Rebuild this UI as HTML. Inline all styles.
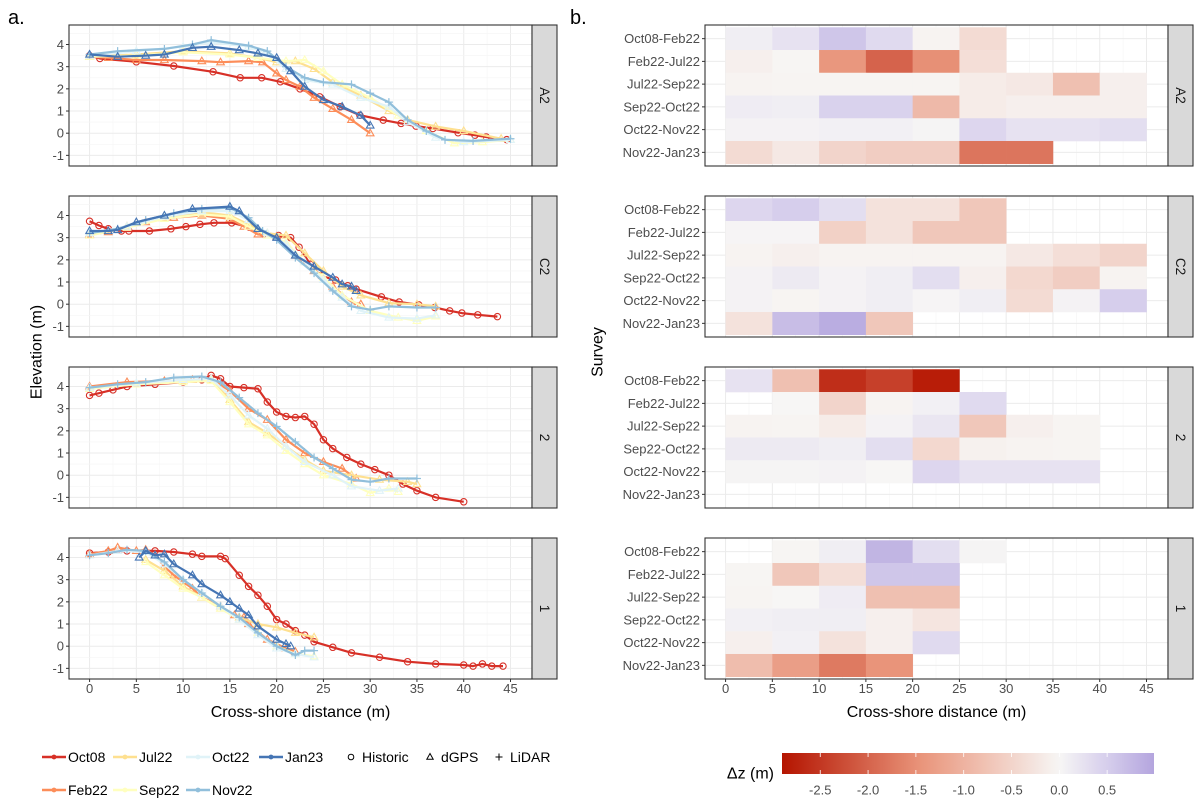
<!DOCTYPE html>
<html><head><meta charset="utf-8"><style>
html,body{margin:0;padding:0;background:#fff;}
svg{display:block;font-family:"Liberation Sans",sans-serif;}
</style></head><body>
<svg id="chart" width="1200" height="811" viewBox="0 0 1200 811" xmlns="http://www.w3.org/2000/svg"></svg>
<script>
// ---------- DATA ----------
const profiles = ["A2","C2","2","1"];
const surveys = ["Oct08","Feb22","Jul22","Sep22","Oct22","Nov22","Jan23"];
const surveyColors = ["#d73027","#fc8d59","#fee090","#ffffbf","#e0f3f8","#91bfdb","#4575b4"];
const surveyShapes = ["circle","triangle","triangle","triangle","triangle","plus","triangle"];
const xTicks = [0,5,10,15,20,25,30,35,40,45];
const zTicks = [-1,0,1,2,3,4];
const transitions = ["Oct08-Feb22","Feb22-Jul22","Jul22-Sep22","Sep22-Oct22","Oct22-Nov22","Nov22-Jan23"];
const binStarts = [0,5,10,15,20,25,30,35,40];
const cbTicks = [-2.5,-2.0,-1.5,-1.0,-0.5,0.0,0.5];

// elevation profiles [distance m, elevation m]
const profA2_Oct08 = [[0,3.5],[1.1,3.37],[5,3.22],[9,3.03],[13.2,2.77],[16.1,2.5],[18.4,2.5],[20.4,2.32],[22.5,2.0],[24.6,1.64],[26.8,1.19],[28.9,0.81],[31.4,0.59],[33.3,0.44],[34.9,0.32],[36.7,0.21],[39.4,0.02],[41.2,-0.09],[42.4,-0.17],[44.6,-0.29]];
const profA2_Feb22 = [[0,3.45],[2,3.4],[5,3.3],[8,3.3],[12,3.25],[14,3.2],[17,3.25],[18.5,3.2],[20,2.7],[21,2.4],[22.5,2.1],[24,1.6],[26,1.1],[28,0.6],[30,0.0]];
const profA2_Jul22 = [[0,3.45],[5,3.55],[10,3.7],[15,3.6],[18,3.4],[20,3.2],[22,3.25],[24,2.9],[26,2.3],[29,1.7],[32,1.0],[34,0.6],[37,0.3],[40,0.1],[44,-0.25]];
const profA2_Sep22 = [[0,3.45],[5,3.5],[10,3.65],[15,3.55],[18,3.4],[21,3.25],[23,3.3],[25,2.8],[27,2.2],[30,1.6],[33,0.8],[36,0.1],[39,-0.45],[42,-0.4],[45,-0.3]];
const profA2_Oct22 = [[0,3.5],[5,3.7],[10,3.9],[13,4.1],[17,3.9],[19,3.6],[21,2.9],[23,2.4],[26,2.2],[29,1.6],[32,1.2],[34,0.5],[37,-0.2],[40,-0.4],[45,-0.3]];
const profA2_Nov22 = [[0,3.55],[3,3.7],[8,3.8],[11,4.0],[13,4.2],[17,3.95],[19,3.7],[21,3.0],[23,2.5],[25,2.3],[28,2.2],[30,1.8],[32,1.4],[34,0.6],[36,0.1],[38,-0.3],[41,-0.35],[45,-0.25]];
const profA2_Jan23 = [[0,3.55],[3,3.45],[6,3.5],[8,3.55],[11,3.85],[13,3.9],[16,3.75],[18,3.6],[20,3.4],[21.5,2.8],[23,2.1],[25,1.5],[27,1.2],[29,0.8],[30,0.35]];

const profC2_Oct08 = [[0,3.74],[1,3.55],[2,3.4],[3.4,3.3],[4.2,3.3],[6.4,3.3],[8.7,3.4],[10.3,3.5],[11.8,3.6],[13.3,3.67],[15.2,3.67],[17.1,3.47],[18.6,3.17],[20.2,3.1],[21.5,3.0],[22.4,2.57],[23.6,1.8],[24.7,1.28],[26.3,1.09],[27.6,0.83],[28.5,0.68],[31.2,0.33],[33.1,0.1],[35.2,-0.03],[36.9,-0.15],[38.5,-0.3],[39.8,-0.4],[41.5,-0.48],[43.6,-0.56]];
const profC2_Feb22 = [[0,3.15],[2,3.25],[4,3.5],[6,3.7],[9,3.9],[12,4.0],[15,3.85],[16.5,3.5],[18,3.15],[20,3.05],[22,2.2],[24,1.5],[26,0.8],[28,0.1],[29,0.0]];
const profC2_Jul22 = [[0,3.1],[4,3.5],[8,3.9],[12,4.15],[15,4.0],[17,3.6],[19,3.2],[21,3.1],[23,2.3],[25,1.5],[27,0.8],[29,0.4],[32,0.05],[35,0.0],[37,-0.1]];
const profC2_Sep22 = [[0,3.1],[4,3.45],[8,3.85],[12,4.05],[15,3.95],[17,3.5],[19,3.1],[21,2.8],[23,1.9],[25,1.2],[27,0.4],[30,-0.3],[33,-0.6],[35,-0.75],[37,-0.55]];
const profC2_Oct22 = [[0,3.2],[4,3.5],[8,3.95],[12,4.2],[15,4.2],[17,3.8],[19,3.2],[21,2.7],[23,1.9],[25,1.1],[27,0.3],[29,-0.3],[32,-0.6],[35,-0.65],[37,-0.5]];
const profC2_Nov22 = [[0,3.2],[3,3.4],[6,3.8],[9,4.1],[12,4.3],[15,4.35],[17,3.9],[18.5,3.3],[20,2.9],[22,2.1],[24,1.4],[26,0.6],[28,-0.1],[30,-0.25],[32,-0.1],[35,-0.15],[37,-0.15]];
const profC2_Jan23 = [[0,3.3],[2,3.3],[3,3.35],[5,3.7],[8,4.0],[11,4.3],[15,4.4],[16,4.2],[18,3.4],[20,3.0],[22,2.2],[24,1.7],[26,1.2],[27,0.9],[28,0.8],[28.5,0.6]];

const prof2_Oct08 = [[0,3.6],[1,3.7],[2.5,3.85],[4,4.0],[7,4.1],[10,4.2],[12,4.3],[13,4.5],[14,4.35],[15,4.0],[16.5,3.95],[18,3.9],[19,3.3],[20,2.85],[21,2.65],[22,2.6],[23,2.65],[24,2.3],[25,1.6],[26,1.2],[27.5,0.8],[29,0.5],[30.5,0.25],[32,0.0],[33.5,-0.4],[35,-0.7],[37,-1.0],[40,-1.2]];
const prof2_Feb22 = [[0,4.0],[4,4.2],[8,4.25],[11,4.3],[13,4.35],[15,3.8],[17,3.0],[19,2.5],[21,1.6],[23,1.0],[25,0.6],[27,0.3],[28.5,-0.15]];
const prof2_Jul22 = [[0,3.9],[5,4.1],[10,4.25],[13,4.3],[15,3.4],[17,2.4],[19,1.9],[21,1.3],[23,0.7],[25,0.2],[28,0.0],[31,-0.2],[34,-0.3],[35,-0.4]];
const prof2_Sep22 = [[0,3.9],[5,4.1],[10,4.2],[13,4.25],[15,3.3],[17,2.3],[19,1.8],[21,1.1],[23,0.5],[25,0.0],[28,-0.4],[30,-0.8],[32,-0.6],[33,-0.75]];
const prof2_Oct22 = [[0,3.95],[5,4.15],[10,4.3],[13,4.35],[15,3.6],[17,2.7],[19,2.1],[21,1.3],[23,0.6],[26,0.0],[28,-0.5],[31,-0.7],[33,-0.6]];
const prof2_Nov22 = [[0,3.95],[3,4.1],[6,4.2],[9,4.4],[12,4.45],[14,4.2],[16,3.5],[18,2.8],[20,2.2],[22,1.5],[24,0.8],[26,0.3],[28,-0.2],[30,-0.3],[32,-0.15],[35,-0.15]];
const prof2_Jan23 = [];

const prof1_Oct08 = [[0,4.2],[2,4.25],[4,4.3],[7,4.3],[9,4.25],[11,4.15],[12,4.05],[14,4.05],[14.5,3.95],[16,3.2],[17,2.7],[18,2.3],[19,1.8],[20,1.2],[21,1.0],[22,0.7],[23,0.5],[24,0.2],[26,-0.05],[28,-0.3],[31,-0.5],[34,-0.7],[37,-0.8],[40,-0.85],[41,-0.9],[42,-0.8],[43,-0.9],[44.2,-0.9]];
const prof1_Feb22 = [[0,4.15],[2,4.3],[3,4.45],[5,4.3],[6,4.35],[7,4.1],[8,3.6],[9,3.2],[10,2.9],[11,2.6],[12,2.2],[14,1.8],[15.5,1.4],[16.5,1.3],[17,1.0],[19,0.3],[21,-0.1],[22,-0.25]];
const prof1_Jul22 = [[6,3.9],[8,3.4],[10,2.7],[12,2.2],[14,1.7],[16,1.3],[18,1.0],[20,0.85],[22,0.6],[24,0.4]];
const prof1_Sep22 = [[6,3.8],[8,3.2],[10,2.6],[12,2.2],[14,1.7],[16,1.2],[18,0.6],[20,0.0],[22,-0.35],[24,-0.45]];
const prof1_Oct22 = [[0,4.1],[3,4.3],[6,4.25],[8,3.7],[10,3.0],[12,2.4],[14,1.8],[16,1.2],[18,0.5],[20,-0.1],[22,-0.35],[24,-0.5]];
const prof1_Nov22 = [[0,4.1],[2,4.2],[4,4.35],[6,4.3],[8,3.8],[10,3.0],[12,2.4],[14,1.8],[16,1.3],[18,0.6],[20,0.0],[22,-0.4],[23,-0.2],[24,-0.2]];
const prof1_Jan23 = [[5.3,4.0],[6,4.3],[7,4.1],[8,4.15],[9,3.7],[11,3.2],[12,2.8],[14,2.3],[15,2.0],[16,1.7],[17,1.4],[18,0.9],[20,0.3],[21,0.1],[21.5,0.0]];

// elevation change (m) per 5 m bin; null = no data
const dzA2 = [
 [0.1,0.25,0.6,0.35,-0.05,-0.4,null,null,null],
 [-0.1,-0.02,-1.4,-2.0,-1.5,-0.35,null,null,null],
 [-0.05,-0.03,-0.03,-0.03,-0.03,-0.15,-0.2,-0.8,-0.1],
 [0.12,0.1,0.45,0.45,-0.9,-0.15,-0.1,-0.1,-0.1],
 [0.05,0.05,0.08,0.08,0.03,0.4,0.25,0.25,0.3],
 [-0.4,-0.2,-0.5,-0.6,-0.6,-1.8,-1.8,null,null]];
const dzC2 = [
 [0.4,0.5,0.3,-0.3,-0.3,-0.7,null,null,null],
 [0.02,0.02,-0.55,-0.3,-0.7,-0.7,null,null,null],
 [-0.05,-0.1,-0.05,-0.05,-0.05,-0.05,-0.2,-0.35,-0.5],
 [0.05,0.15,0.05,0.1,0.3,-0.1,-0.45,-0.6,-0.05],
 [0.05,-0.03,0.05,0.1,0.02,0.1,-0.4,0.05,0.5],
 [-0.3,0.7,0.9,-0.7,null,null,null,null,null]];
const dz2 = [
 [0.25,-0.8,-2.6,-2.4,-2.8,null,null,null,null],
 [null,0.0,-0.5,-0.05,0.08,0.35,null,null,null],
 [-0.05,-0.03,-0.15,0.05,0.2,-0.7,-0.1,-0.03,null],
 [0.15,0.15,0.1,0.3,-0.45,-0.08,-0.05,-0.03,null],
 [0.03,0.03,0.05,0.0,0.4,0.25,0.25,0.25,null],
 [null,null,null,null,null,null,null,null,null]];
const dz1 = [
 [null,-0.02,0.1,0.8,0.3,0.03,null,null,null],
 [-0.02,-0.7,-0.35,0.6,0.6,null,null,null,null],
 [-0.03,0.0,0.12,-0.8,-0.8,null,null,null,null],
 [0.08,0.1,0.1,-0.1,-0.25,null,null,null,null],
 [-0.1,0.08,-0.3,-0.1,0.35,null,null,null,null],
 [-0.85,-1.3,-1.75,-1.45,null,null,null,null,null]];

const profileLines = {
 "A2":[profA2_Oct08,profA2_Feb22,profA2_Jul22,profA2_Sep22,profA2_Oct22,profA2_Nov22,profA2_Jan23],
 "C2":[profC2_Oct08,profC2_Feb22,profC2_Jul22,profC2_Sep22,profC2_Oct22,profC2_Nov22,profC2_Jan23],
 "2":[prof2_Oct08,prof2_Feb22,prof2_Jul22,prof2_Sep22,prof2_Oct22,prof2_Nov22,prof2_Jan23],
 "1":[prof1_Oct08,prof1_Feb22,prof1_Jul22,prof1_Sep22,prof1_Oct22,prof1_Nov22,prof1_Jan23]};
const profileDz = {"A2":dzA2,"C2":dzC2,"2":dz2,"1":dz1};

// ---------- LAYOUT ----------
const NS="http://www.w3.org/2000/svg";
const svg=document.getElementById('chart');
function mk(tag,attrs,parent){const e=document.createElementNS(NS,tag);for(const k in attrs)e.setAttribute(k,attrs[k]);(parent||svg).appendChild(e);return e;}
const PW=463, PH=141, TOP0=25, GAP=171;
const LX=69, RX=705;
const XMIN=-2.2, XMAX=47.3, ZMIN=-1.48, ZMAX=4.88;
function sx(left,v){return left+(v-XMIN)/(XMAX-XMIN)*PW;}
function sz(top,v){return top+(ZMAX-v)/(ZMAX-ZMIN)*PH;}
const rowH=PH/6.2;
function sRow(top,i){return top+(0.6+i)*rowH;}

function cbColor(v){
  const stops=[[-2.9,[180,20,0]],[-1.45,[233,148,122]],[0,[247,246,245]],[0.5,[214,206,236]],[0.99,[180,165,222]]];
  if(v<=stops[0][0])return 'rgb('+stops[0][1]+')';
  for(let i=1;i<stops.length;i++){if(v<=stops[i][0]){const a=stops[i-1],b=stops[i];const t=(v-a[0])/(b[0]-a[0]);
    return 'rgb('+a[1].map((c,j)=>Math.round(c+(b[1][j]-c)*t)).join(',')+')';}}
  return 'rgb('+stops[stops.length-1][1]+')';
}

function text(str,x,y,opt,parent){const t=mk('text',Object.assign({x:x,y:y},opt||{}),parent);t.textContent=str;return t;}

function marker(g,shape,x,y,color){
  let m;
  if(shape==='circle'){m=mk('circle',{cx:x,cy:y,r:3.2,fill:'none',stroke:color,'stroke-width':1.1},g);}
  else if(shape==='triangle'){m=mk('path',{d:`M${x},${y-4} L${x+3.8},${y+2.6} L${x-3.8},${y+2.6} Z`,fill:'none',stroke:color,'stroke-width':1.1},g);}
  else {m=mk('path',{d:`M${x-4},${y} H${x+4} M${x},${y-4} V${y+4}`,stroke:color,'stroke-width':1.2},g);}
  
  
}

function panelFrame(left,top,label,side,idx){
  const g=mk('g',{},svg);
  
  
  mk('rect',{x:left,y:top,width:PW,height:PH,fill:'#fff'},g);
  const grid=mk('g',{},g);
  
  
  for(let v=-2.5;v<=47.5;v+=2.5){const x=sx(left,v);if(x<left||x>left+PW)continue;
    const major=(v%5===0);
    mk('line',{x1:x,x2:x,y1:top,y2:top+PH,stroke:major?'#ebebeb':'#f5f5f5','stroke-width':major?1:0.6},grid);}
  if(side==='left'){
    for(let v=-1.5;v<=5;v+=0.5){const y=sz(top,v);if(y<top||y>top+PH)continue;const major=Number.isInteger(v);
      mk('line',{x1:left,x2:left+PW,y1:y,y2:y,stroke:major?'#ebebeb':'#f5f5f5','stroke-width':major?1:0.6},grid);}
  } else {
    for(let i=0;i<6;i++){const y=sRow(top,i);mk('line',{x1:left,x2:left+PW,y1:y,y2:y,stroke:'#ebebeb'},grid);}
  }
  return g;
}
function panelBorder(left,top,label,g){
  mk('rect',{x:left,y:top,width:PW,height:PH,fill:'none',stroke:'#333','stroke-width':1.1},g);
  const s=mk('g',{},g);
  
  
  mk('rect',{x:left+PW,y:top,width:25,height:PH,fill:'#d9d9d9',stroke:'#333','stroke-width':1.1},s);
  const cx=left+PW+12.5, cy=top+PH/2;
  text(label,cx,cy,{transform:`rotate(90 ${cx} ${cy})`,'text-anchor':'middle','dominant-baseline':'central','font-size':13.5,fill:'#1a1a1a'},s);
}

profiles.forEach((p,pi)=>{
  const top=TOP0+GAP*pi;
  const g=panelFrame(LX,top,p,'left',pi);
  const lines=profileLines[p];
  surveys.forEach((s,si)=>{
    const pts=lines[si]; if(!pts.length)return;
    const sg=mk('g',{},g);
    
    
    const d=pts.map((q,i)=>(i?'L':'M')+sx(LX,q[0]).toFixed(1)+','+sz(top,q[1]).toFixed(1)).join(' ');
    mk('path',{d:d,fill:'none',stroke:surveyColors[si],'stroke-width':2.2,'stroke-linejoin':'round'},sg);
    pts.forEach(q=>marker(sg,surveyShapes[si],sx(LX,q[0]),sz(top,q[1]),surveyColors[si]));
  });
  panelBorder(LX,top,p,g);
  zTicks.forEach(v=>{const y=sz(top,v);
    mk('line',{x1:LX-3,x2:LX,y1:y,y2:y,stroke:'#333'},g);
    const t=text(String(v),LX-5,y,{'text-anchor':'end','dominant-baseline':'central','font-size':13,fill:'#4d4d4d'},g);
    });

  const h=panelFrame(RX,top,p,'right',pi);
  const dz=profileDz[p];
  transitions.forEach((tr,ri)=>{
    binStarts.forEach((b,bi)=>{const v=dz[ri][bi]; if(v===null)return;
      const x0=sx(RX,b), x1=sx(RX,b+5), yc=sRow(top,ri);
      const c=mk('rect',{x:x0,y:yc-rowH/2,width:x1-x0+0.3,height:rowH+0.3,fill:cbColor(v)},h);
      
      
    });
    const y=sRow(top,ri);
    mk('line',{x1:RX-3,x2:RX,y1:y,y2:y,stroke:'#333'},h);
    const t=text(tr,RX-5,y,{'text-anchor':'end','dominant-baseline':'central','font-size':13,fill:'#4d4d4d'},h);
    
  });
  panelBorder(RX,top,p,h);
});

[LX,RX].forEach((left,k)=>{
  const top=TOP0+GAP*3, bottom=top+PH;
  const g=mk('g',{},svg);
  
  
  xTicks.forEach(v=>{const x=sx(left,v);
    mk('line',{x1:x,x2:x,y1:bottom,y2:bottom+3,stroke:'#333'},g);
    text(String(v),x,bottom+14,{'text-anchor':'middle','font-size':13,fill:'#4d4d4d'},g);});
  const t=text('Cross-shore distance (m)',left+PW/2,bottom+38,{'text-anchor':'middle','font-size':16,fill:'#000'},g);
  
});
let t=text('Elevation (m)',37,352,{transform:'rotate(-90 37 352)','text-anchor':'middle','dominant-baseline':'central','font-size':16,fill:'#000'});

t=text('Survey',598,352,{transform:'rotate(-90 598 352)','text-anchor':'middle','dominant-baseline':'central','font-size':16,fill:'#000'});

t=text('a.',8,24,{'font-size':20,fill:'#000'});

t=text('b.',570,24,{'font-size':20,fill:'#000'});


const legPos=[[42,757],[42,790],[113,757],[113,790],[186,757],[186,790],[259,757]];
const legOrder=[0,1,2,3,4,5,6];
legOrder.forEach((si,i)=>{
  const [x,y]=legPos[i];
  const g=mk('g',{},svg);
  
  
  mk('line',{x1:x,x2:x+24,y1:y,y2:y,stroke:surveyColors[si],'stroke-width':2.6},g);
  mk('circle',{cx:x+12,cy:y,r:2.4,fill:surveyColors[si]},g);
  text(surveys[si],x+26,y,{'dominant-baseline':'central','font-size':14,fill:'#000'},g);
});
const methods=["Historic","dGPS","LiDAR"], methodShapes=["circle","triangle","plus"], methodX=[351,430,499];
methods.forEach((m,i)=>{
  const g=mk('g',{},svg);
  
  
  const x=methodX[i],y=757;
  if(methodShapes[i]==='circle')mk('circle',{cx:x,cy:y,r:2.8,fill:'none',stroke:'#000','stroke-width':1},g);
  else if(methodShapes[i]==='triangle')mk('path',{d:`M${x},${y-3.5} L${x+3.2},${y+2.3} L${x-3.2},${y+2.3} Z`,fill:'none',stroke:'#000','stroke-width':1},g);
  else mk('path',{d:`M${x-3.5},${y} H${x+3.5} M${x},${y-3.5} V${y+3.5}`,stroke:'#000','stroke-width':1},g);
  text(m,x+11,y,{'dominant-baseline':'central','font-size':14,fill:'#000'},g);
});

const CB0=782, CB1=1154, CBV0=-2.9, CBV1=0.99;
function scb(v){return CB0+(v-CBV0)/(CBV1-CBV0)*(CB1-CB0);}
const cg=mk('g',{},svg);


const defs=mk('defs',{},svg);
const grad=mk('linearGradient',{id:'cbgrad',x1:0,x2:1,y1:0,y2:0},defs);
for(let i=0;i<=40;i++){const v=CBV0+(CBV1-CBV0)*i/40;mk('stop',{offset:(i/40),'stop-color':cbColor(v)},grad);}
mk('rect',{x:CB0,y:753,width:CB1-CB0,height:21,fill:'url(#cbgrad)'},cg);
cbTicks.forEach(v=>{const x=scb(v);
  mk('line',{x1:x,x2:x,y1:753,y2:757,stroke:'#fff','stroke-width':0.8},cg);
  mk('line',{x1:x,x2:x,y1:770,y2:774,stroke:'#fff','stroke-width':0.8},cg);
  text(v.toFixed(1),x,790,{'text-anchor':'middle','dominant-baseline':'central','font-size':13,fill:'#4d4d4d'},cg);});
t=text('Δz (m)',774,774,{'text-anchor':'end','dominant-baseline':'central','font-size':16,fill:'#000'},cg);

</script>
</body></html>
